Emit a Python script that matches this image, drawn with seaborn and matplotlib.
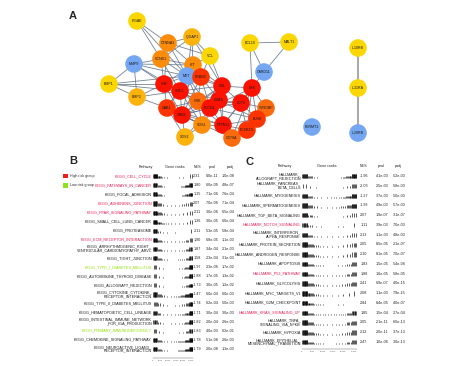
import matplotlib
matplotlib.use("Agg")
import matplotlib.pyplot as plt
from matplotlib.patches import Patch
import seaborn as sns
import pandas as pd

# ------------------------------------------------------------------ data
# Panel A: PPI network (layout coordinates, in figure pixels)
node_names = ["ITGAE", "CTNNA1", "IQGAP1", "VCL", "KIT", "CCND1", "MMP9", "BMP1",
              "BMP2", "MET", "ERBB2", "HGF", "SHC1", "CBL", "CRK", "HRAS", "PLCG1",
              "GAB1", "GRB2", "SOS1", "SOS2", "PTPN11", "CD79A", "BCL10", "MALT1",
              "CARD11", "SYK", "LCP2", "TYROBP", "BLNK", "FCER1G", "FERMT1",
              "IL10RB", "IL31RA", "IL20RB"]
node_x = [137, 168, 192, 210, 193, 161, 134, 109, 137, 187, 201, 164, 180, 222, 198,
          219, 210, 167, 182, 202, 185, 223, 232, 250, 289, 264, 252, 241, 266, 257,
          247, 312, 358, 358, 358]
node_y = [21, 43, 37, 56, 65, 59, 64, 84, 97, 76, 77, 84, 91, 86, 101, 100, 108, 108,
          115, 125, 137, 125, 138, 43, 42, 72, 88, 103, 108, 119, 130, 127, 48, 88, 133]
node_level = ["yellow", "orange", "gold", "yellow", "orange", "orange", "blue", "yellow",
              "gold", "blue", "redorange", "red", "red", "red", "darkorange", "red", "red",
              "redorange", "red", "orange", "gold", "red", "darkorange", "yellow", "yellow",
              "blue", "red", "red", "darkorange", "redorange", "redorange", "blue",
              "yellow", "yellow", "blue"]
level_colors = {"red": "#fb1200", "redorange": "#fd3300", "darkorange": "#fb6a0c",
                "orange": "#fd8c0a", "gold": "#fdb20c", "yellow": "#fbd600",
                "blue": "#74a6f2"}
edges = [("ITGAE", "CTNNA1"), ("ITGAE", "CCND1"), ("ITGAE", "MET"),
         ("CTNNA1", "IQGAP1"), ("CTNNA1", "VCL"), ("CTNNA1", "CCND1"), ("CTNNA1", "KIT"),
         ("CTNNA1", "MET"), ("CTNNA1", "HGF"), ("IQGAP1", "VCL"), ("IQGAP1", "KIT"),
         ("IQGAP1", "MET"), ("IQGAP1", "CCND1"), ("IQGAP1", "CBL"), ("VCL", "KIT"),
         ("VCL", "ERBB2"), ("VCL", "CBL"), ("MMP9", "CCND1"), ("MMP9", "BMP1"),
         ("MMP9", "BMP2"), ("MMP9", "HGF"), ("MMP9", "SHC1"), ("MMP9", "KIT"),
         ("BMP1", "BMP2"), ("BMP1", "HGF"), ("BMP1", "MET"), ("BMP2", "HGF"),
         ("BMP2", "SHC1"), ("BMP2", "GAB1"), ("CCND1", "KIT"), ("CCND1", "HGF"),
         ("CCND1", "MET"), ("CCND1", "SHC1"), ("KIT", "MET"), ("KIT", "ERBB2"),
         ("KIT", "SHC1"), ("KIT", "CBL"), ("KIT", "GRB2"), ("MET", "ERBB2"),
         ("MET", "HGF"), ("MET", "SHC1"), ("MET", "CBL"), ("MET", "CRK"), ("MET", "GAB1"),
         ("MET", "PLCG1"), ("ERBB2", "CBL"), ("ERBB2", "SHC1"), ("ERBB2", "GRB2"),
         ("ERBB2", "HRAS"), ("ERBB2", "PLCG1"), ("HGF", "SHC1"), ("HGF", "GAB1"),
         ("HGF", "GRB2"), ("HGF", "CRK"), ("SHC1", "GAB1"), ("SHC1", "GRB2"),
         ("SHC1", "CRK"), ("SHC1", "SOS1"), ("SHC1", "HRAS"), ("SHC1", "CBL"),
         ("SHC1", "PLCG1"), ("CBL", "HRAS"), ("CBL", "SYK"), ("CBL", "LCP2"),
         ("CBL", "PLCG1"), ("CBL", "CRK"), ("CBL", "GRB2"), ("CRK", "GRB2"),
         ("CRK", "GAB1"), ("CRK", "PLCG1"), ("CRK", "SOS1"), ("CRK", "HRAS"),
         ("HRAS", "PLCG1"), ("HRAS", "SOS1"), ("HRAS", "SOS2"), ("HRAS", "GRB2"),
         ("HRAS", "LCP2"), ("HRAS", "PTPN11"), ("PLCG1", "GRB2"), ("PLCG1", "LCP2"),
         ("PLCG1", "SYK"), ("PLCG1", "PTPN11"), ("PLCG1", "BLNK"), ("PLCG1", "SOS1"),
         ("GAB1", "GRB2"), ("GAB1", "SOS1"), ("GAB1", "PTPN11"), ("GAB1", "SOS2"),
         ("GRB2", "SOS1"), ("GRB2", "SOS2"), ("GRB2", "PTPN11"), ("GRB2", "CD79A"),
         ("SOS1", "SOS2"), ("SOS1", "PTPN11"), ("PTPN11", "CD79A"), ("PTPN11", "LCP2"),
         ("PTPN11", "BLNK"), ("PTPN11", "FCER1G"), ("PTPN11", "SYK"), ("CD79A", "BLNK"),
         ("CD79A", "SYK"), ("CD79A", "FCER1G"), ("SYK", "LCP2"), ("SYK", "TYROBP"),
         ("SYK", "BLNK"), ("SYK", "FCER1G"), ("SYK", "CARD11"), ("LCP2", "BLNK"),
         ("LCP2", "FCER1G"), ("LCP2", "TYROBP"), ("TYROBP", "FCER1G"), ("TYROBP", "BLNK"),
         ("BLNK", "FCER1G"), ("BCL10", "MALT1"), ("BCL10", "CARD11"), ("MALT1", "CARD11"),
         ("BCL10", "SYK"), ("MMP9", "MET"), ("BMP1", "SHC1"), ("KIT", "HGF"),
         ("ERBB2", "CRK"), ("CBL", "PTPN11"), ("HRAS", "BLNK"), ("GRB2", "PLCG1"),
         ("SHC1", "PTPN11"), ("CRK", "LCP2")]
receptor_edges = [("IL10RB", "IL31RA"), ("IL31RA", "IL20RB")]

# Panel B: KEGG GSEA table
b_pathways = ["KEGG_CELL_CYCLE", "KEGG_PATHWAYS_IN_CANCER", "KEGG_FOCAL_ADHESION",
              "KEGG_ADHERENS_JUNCTION", "KEGG_PPAR_SIGNALING_PATHWAY",
              "KEGG_SMALL_CELL_LUNG_CANCER", "KEGG_PROTEASOME",
              "KEGG_ECM_RECEPTOR_INTERACTION",
              "KEGG_ARRHYTHMOGENIC_RIGHT_\nVENTRICULAR_CARDIOMYOPATHY_ARVC",
              "KEGG_TIGHT_JUNCTION", "KEGG_TYPE_I_DIABETES_MELLITUS",
              "KEGG_AUTOIMMUNE_THYROID_DISEASE", "KEGG_ALLOGRAFT_REJECTION",
              "KEGG_CYTOKINE_CYTOKINE_\nRECEPTOR_INTERACTION",
              "KEGG_TYPE_II_DIABETES_MELLITUS", "KEGG_HEMATOPOIETIC_CELL_LINEAGE",
              "KEGG_INTESTINAL_IMMUNE_NETWORK\n_FOR_IGA_PRODUCTION",
              "KEGG_PRIMARY_IMMUNODEFICIENCY", "KEGG_CHEMOKINE_SIGNALING_PATHWAY",
              "KEGG_NEUROACTIVE_LIGAND_\nRECEPTOR_INTERACTION"]
b_nes = ["2.31", "1.80", "1.15", "2.07", "2.11", "1.36", "2.11", "1.90", "1.87", "1.58",
         "-1.97", "-1.88", "-1.73", "-1.47", "-1.74", "-1.71", "-1.82", "-1.83", "-1.78",
         "-1.79"]
b_pval = ["9.0e-11", "6.0e-09", "7.1e-06", "7.0e-06", "3.0e-06", "3.0e-05", "5.3e-05",
          "6.8e-05", "3.4e-04", "2.3e-04", "2.3e-06", "1.7e-05", "3.0e-05", "6.0e-04",
          "6.2e-04", "3.0e-04", "2.0e-04", "4.0e-03", "5.1e-08", "2.0e-08"]
b_padj = ["1.0e-08", "4.8e-07", "7.6e-04", "7.1e-04", "6.5e-04", "6.0e-04", "5.8e-04",
          "1.1e-03", "2.1e-03", "3.1e-03", "1.7e-02", "1.3e-02", "1.2e-02", "6.0e-03",
          "5.0e-03", "3.0e-03", "2.6e-03", "6.2e-01", "2.6e-03", "1.3e-03"]
b_group = ["high", "high", "none", "high", "high", "none", "none", "high", "none", "none",
           "low", "none", "none", "none", "none", "none", "none", "low", "none", "none"]
b_density = [[12, 6, 2, 1, 1, 1, 1, 1, 0, 2], [10, 4, 2, 1, 1, 2, 3, 5, 8, 9],
             [10, 5, 2, 1, 1, 1, 2, 3, 6, 9], [10, 4, 1, 1, 1, 1, 1, 2, 2, 3],
             [10, 5, 2, 1, 1, 1, 1, 1, 1, 2], [11, 6, 3, 2, 1, 1, 1, 1, 1, 2],
             [10, 2, 1, 1, 0, 1, 0, 0, 0, 1], [10, 5, 2, 1, 1, 1, 1, 2, 3, 4],
             [9, 4, 2, 1, 1, 1, 1, 2, 4, 6], [9, 4, 2, 1, 1, 1, 2, 2, 4, 7],
             [3, 1, 1, 0, 0, 1, 1, 2, 5, 11], [3, 1, 1, 0, 1, 1, 1, 2, 5, 10],
             [3, 1, 1, 0, 1, 1, 1, 2, 4, 9], [9, 4, 2, 1, 1, 2, 3, 5, 8, 12],
             [4, 2, 1, 1, 0, 1, 1, 2, 4, 9], [8, 3, 1, 1, 1, 1, 2, 3, 6, 11],
             [6, 2, 1, 0, 1, 1, 1, 2, 5, 10], [3, 1, 1, 0, 0, 0, 1, 1, 3, 7],
             [10, 4, 2, 1, 1, 2, 3, 5, 8, 12], [10, 4, 2, 1, 1, 2, 3, 5, 8, 12]]

# Panel C: HALLMARK GSEA table
c_pathways = ["HALLMARK_\nALLOGRAFT_REJECTION", "HALLMARK_PANCREAS_\nBETA_CELLS",
              "HALLMARK_MYOGENESIS", "HALLMARK_SPERMATOGENESIS",
              "HALLMARK_TGF_BETA_SIGNALING", "HALLMARK_NOTCH_SIGNALING",
              "HALLMARK_INTERFERON_\nALPHA_RESPONSE", "HALLMARK_PROTEIN_SECRETION",
              "HALLMARK_ANDROGEN_RESPONSE", "HALLMARK_APOPTOSIS", "HALLMARK_P53_PATHWAY",
              "HALLMARK_GLYCOLYSIS", "HALLMARK_MYC_TARGETS_V1", "HALLMARK_G2M_CHECKPOINT",
              "HALLMARK_KRAS_SIGNALING_UP", "HALLMARK_TNFA_\nSIGNALING_VIA_NFKB",
              "HALLMARK_HYPOXIA", "HALLMARK_EPITHELIAL_\nMESENCHYMAL_TRANSITION"]
c_nes = ["-1.96", "-2.03", "-1.27", "-1.93", "2.07", "1.11", "2.13", "2.05", "2.10",
         "1.83", "1.88", "2.41", "2.08", "2.84", "1.85", "2.05", "2.12", "2.47"]
c_pval = ["4.1e-03", "2.5e-03", "3.7e-03", "4.9e-03", "1.9e-07", "3.9e-03", "1.1e-03",
          "8.5e-05", "8.1e-05", "1.5e-05", "1.6e-05", "6.9e-07", "1.1e-03", "8.4e-05",
          "1.5e-04", "2.1e-11", "2.0e-11", "1.0e-06"]
c_padj = ["5.2e-03", "5.8e-03", "5.0e-03", "5.7e-03", "3.1e-07", "7.0e-03", "4.8e-03",
          "2.1e-07", "7.0e-07", "5.4e-06", "5.8e-05", "4.0e-15", "7.9e-15", "4.0e-07",
          "2.7e-04", "6.0e-13", "3.7e-13", "3.0e-13"]
c_group = ["none", "none", "none", "none", "none", "high", "none", "none", "none", "none",
           "high", "none", "none", "none", "high", "none", "none", "none"]
c_density = [[11, 5, 2, 2, 1, 2, 2, 4, 7, 12], [2, 1, 1, 0, 1, 1, 0, 1, 2, 5],
             [11, 5, 2, 1, 1, 2, 2, 4, 7, 11], [11, 5, 2, 1, 1, 1, 2, 3, 5, 11],
             [11, 4, 2, 1, 1, 1, 1, 1, 2, 3], [9, 3, 1, 1, 1, 0, 1, 1, 0, 1],
             [11, 5, 2, 1, 1, 1, 1, 1, 2, 3], [12, 6, 3, 2, 1, 1, 1, 1, 2, 4],
             [12, 6, 3, 2, 1, 1, 1, 1, 2, 4], [12, 6, 3, 2, 1, 1, 1, 2, 3, 5],
             [12, 6, 3, 2, 1, 1, 2, 2, 4, 6], [12, 6, 3, 2, 1, 1, 2, 2, 3, 5],
             [13, 7, 3, 2, 1, 1, 1, 1, 1, 1], [13, 7, 3, 2, 1, 1, 1, 1, 0, 0],
             [12, 6, 3, 2, 2, 2, 2, 3, 5, 8], [12, 6, 3, 2, 1, 1, 2, 2, 4, 6],
             [12, 6, 3, 2, 1, 1, 2, 2, 3, 5], [12, 6, 3, 2, 1, 1, 2, 2, 4, 6]]

rank_profile = [1.0, 0.55, 0.3, 0.2, 0.15, 0.15, 0.2, 0.3, 0.55, 0.95]  # |stat| per bin
n_genes = 26500
rank_ticks = [0, 5000, 10000, 15000, 20000, 25000]
headers = ["Pathway", "Gene ranks", "NES", "pval", "padj"]
group_colors = {"high": "#e8194f", "low": "#8fe000", "none": "#1a1a1a"}
legend_labels = ["High risk group", "Low risk group"]
legend_colors = ["#ee1c1c", "#8fe21a"]

# ------------------------------------------------------------------ style
sns.set_theme(style="white")
plt.rcParams["font.family"] = ["Liberation Sans", "DejaVu Sans"]

W, H = 474, 366
fig = plt.figure(figsize=(W / 100, H / 100), dpi=100)
fig.patch.set_facecolor("white")


def rect(x0, x1, y0, y1):
    return [x0 / W, 1 - y1 / H, (x1 - x0) / W, (y1 - y0) / H]


# ------------------------------------------------------------------ panel A
axA = fig.add_axes(rect(0, W, 0, 150))
axA.set_xlim(0, W)
axA.set_ylim(150, 0)
axA.axis("off")
nodes = pd.DataFrame({"name": node_names, "x": node_x, "y": node_y, "level": node_level})
pos = nodes.set_index("name")
for a, b in edges:
    axA.plot([pos.at[a, "x"], pos.at[b, "x"]], [pos.at[a, "y"], pos.at[b, "y"]],
             color="#66768a", lw=0.6, alpha=0.9, zorder=1)
for a, b in receptor_edges:
    axA.plot([pos.at[a, "x"], pos.at[b, "x"]], [pos.at[a, "y"], pos.at[b, "y"]],
             color="#9a9a9a", lw=1.2, zorder=1)
sns.scatterplot(data=nodes, x="x", y="y", hue="level", palette=level_colors, s=160,
                linewidth=0, legend=False, ax=axA, zorder=3, clip_on=False)
for _, r in nodes.iterrows():
    axA.text(r["x"], r["y"], r["name"], ha="center", va="center", fontsize=2.6,
             color="#1a1a1a", zorder=4)

fig.text(73 / W, 1 - 16 / H, "A", fontsize=8, fontweight="bold", ha="center", va="center")
fig.text(73 / W, 1 - 161 / H, "B", fontsize=8, fontweight="bold", ha="center", va="center")
fig.text(249 / W, 1 - 162 / H, "C", fontsize=8, fontweight="bold", ha="center", va="center")


# ------------------------------------------------------------------ tables
def draw_table(row0, step, bottom_px, strip_x0, strip_x1, name_x, col_x, header_x,
               pathways, nes, pval, padj, groups, density):
    n = len(pathways)
    ymax = (bottom_px - row0) / step
    top_px = row0 - 1.5 * step
    ax = fig.add_axes(rect(0, W, top_px, bottom_px))
    ax.set_xlim(0, W)
    ax.set_ylim(ymax, -1.5)
    ax.axis("off")
    for hx, h in zip(header_x, headers):
        ax.text(hx, -1, h, ha="center", va="center", fontsize=2.7, color="#222")
    for i in range(n):
        ax.text(name_x, i, pathways[i], ha="right", va="center", fontsize=2.7,
                color=group_colors[groups[i]], linespacing=0.95)
        for cx, val in zip(col_x, (nes[i], pval[i], padj[i])):
            ax.text(cx, i, val, ha="center", va="center", fontsize=2.7, color="#222")
    # gene-rank strips
    axs = fig.add_axes(rect(strip_x0, strip_x1, top_px, bottom_px))
    axs.set_xlim(0, n_genes)
    axs.set_ylim(ymax, -1.5)
    axs.patch.set_alpha(0)
    for s in ("top", "right", "left"):
        axs.spines[s].set_visible(False)
    axs.spines["bottom"].set_linewidth(0.3)
    axs.spines["bottom"].set_color("#555")
    axs.set_yticks([])
    axs.set_xticks(rank_ticks)
    axs.set_xticklabels([str(t) for t in rank_ticks], fontsize=1.6, color="#555")
    axs.tick_params(axis="x", length=1, width=0.3, pad=0.5, colors="#555")
    nb = len(rank_profile)
    binw = n_genes / nb
    for i in range(n):
        xs, ys0, ys1 = [], [], []
        for b in range(nb):
            d = density[i][b]
            for k in range(d):
                xs.append(binw * (b + (k + 0.5) / d))
                ys0.append(i + 0.25)
                ys1.append(i + 0.25 - 0.45 * rank_profile[b])
        axs.vlines(xs, ys0, ys1, color="black", lw=0.45)
    return ax


axB = draw_table(176, 9.1, 358, 153, 193, 152, [197, 212, 228],
                 [146, 175, 198, 212, 230], b_pathways, b_nes, b_pval, b_padj, b_group,
                 b_density)
axC = draw_table(176, 9.76, 349, 302, 357, 301, [364, 382, 399],
                 [285, 327, 364, 381, 398], c_pathways, c_nes, c_pval, c_padj, c_group,
                 c_density)

handles = [Patch(facecolor=c, edgecolor="none") for c in legend_colors]
fig.legend(handles, legend_labels, loc="upper left", bbox_to_anchor=(63 / W, 1 - 174 / H),
           frameon=False, fontsize=2.6, handlelength=1.5, handleheight=1.5,
           labelspacing=1.3, handletextpad=0.5, borderpad=0, borderaxespad=0)

fig.savefig("out.png", dpi=100, facecolor="white")
